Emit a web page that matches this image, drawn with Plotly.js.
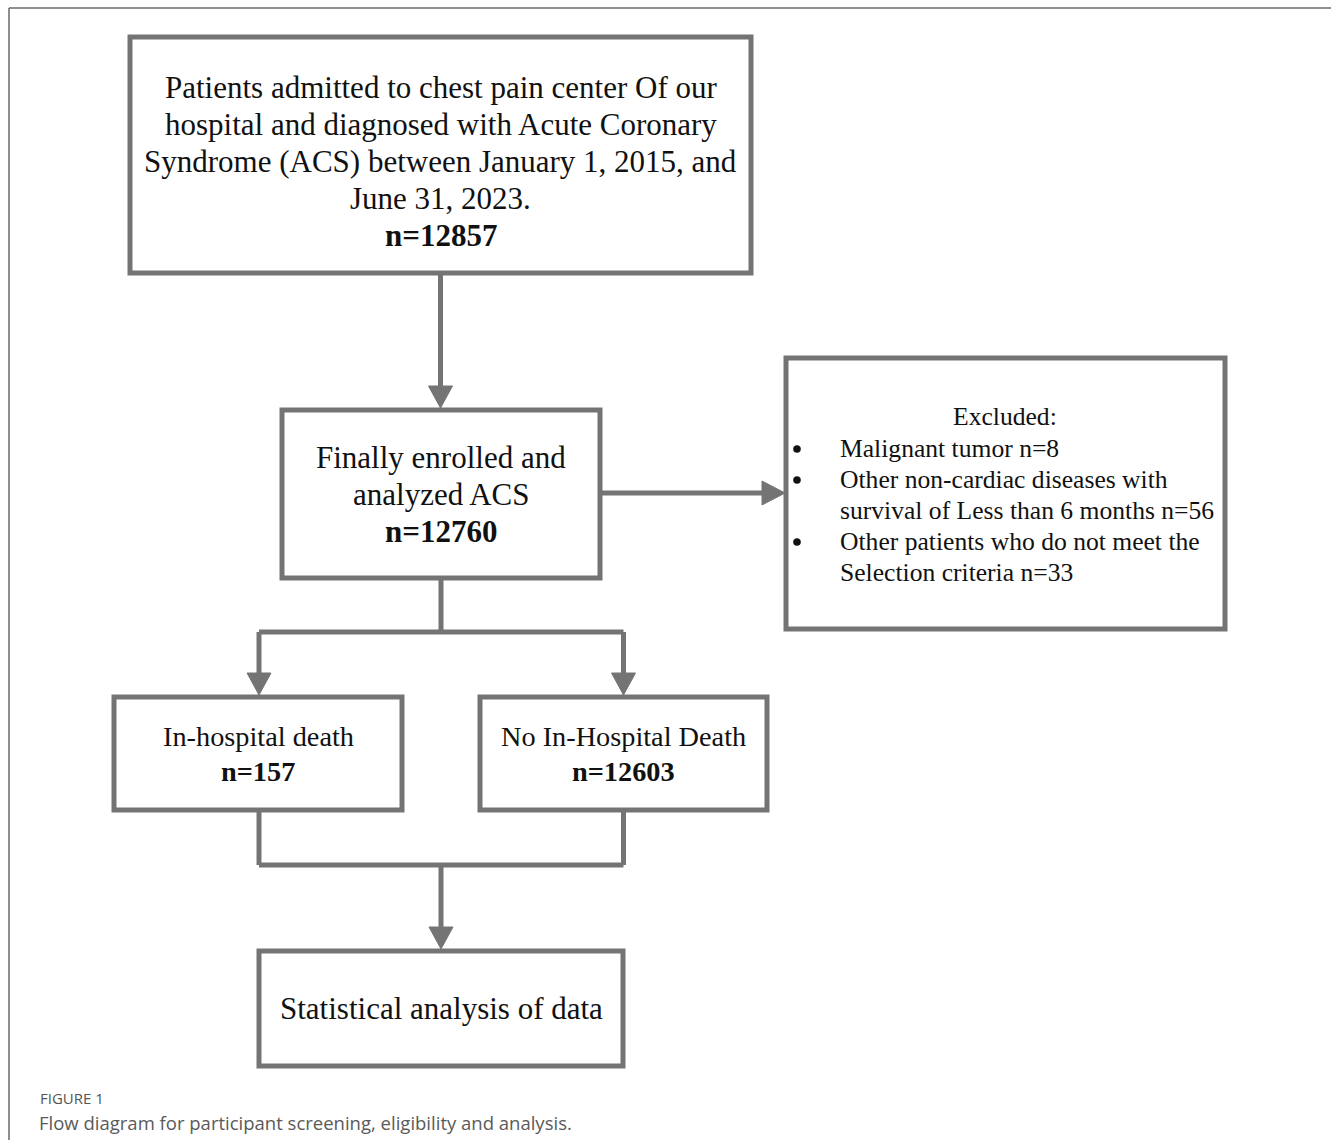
<!DOCTYPE html>
<html>
<head>
<meta charset="utf-8">
<script src="https://cdn.plot.ly/plotly-3.0.1.min.js"></script>
<style>html,body{margin:0;padding:0;background:#fff;}#chart{width:1331px;height:1140px;}</style>
</head>
<body>
<div id="chart"></div>
<script>
// ---- content (data) ----
const nTotal = 12857;
const nEnrolled = 12760;
const nDeath = 157;
const nNoDeath = 12603;
const excludedHeader = "Excluded:";
const excludedLabels = [["Malignant tumor"], ["Other non-cardiac diseases with", "survival of Less than 6 months"], ["Other patients who do not meet the", "Selection criteria"]];
const excludedCounts = [8, 56, 33];
const boxTitles = [
  ["Patients admitted to chest pain center Of our", "hospital and diagnosed with Acute Coronary", "Syndrome (ACS) between January 1, 2015, and", "June 31, 2023."],
  ["Finally enrolled and", "analyzed ACS"],
  ["In-hospital death"],
  ["No In-Hospital Death"],
  ["Statistical analysis of data"]
];
const boxCounts = [nTotal, nEnrolled, nDeath, nNoDeath, null];
const captionLabel = "FIGURE 1";
const captionText = "Flow diagram for participant screening, eligibility and analysis.";

// ---- layout geometry (pixel space) ----
const W = 1331, H = 1140;
const boxes = [
  {x0:130, x1:751, y0:37,  y1:273, ty:161.5, sp:37, fs:31},
  {x0:282, x1:600, y0:410, y1:578, ty:494, sp:37, fs:31},
  {x0:114, x1:402, y0:697, y1:810, ty:753.5, sp:35, fs:28.3},
  {x0:480, x1:767, y0:697, y1:810, ty:753.5, sp:35, fs:28.3},
  {x0:259, x1:623, y0:951, y1:1066, ty:1008, sp:37, fs:31}
];
const exBox = {x0:786, x1:1225, y0:358, y1:629};
const gray = "#747474";
const lw = 5;
const serif = "Liberation Serif, Times New Roman, serif";
const exSize = 25.6;

const shapes = [];
const annotations = [];

// outer frame
shapes.push({type:"line", xref:"x", yref:"y", x0:9, y0:8, x1:W, y1:8, line:{color:"#6a6a6a", width:1.5}});
shapes.push({type:"line", xref:"x", yref:"y", x0:9, y0:8, x1:9, y1:H, line:{color:"#6a6a6a", width:1.5}});

function rect(b){
  shapes.push({type:"rect", xref:"x", yref:"y", x0:b.x0, x1:b.x1, y0:b.y0, y1:b.y1, line:{color:gray, width:lw}, fillcolor:"rgba(0,0,0,0)"});
}
function seg(x0,y0,x1,y1){
  shapes.push({type:"line", xref:"x", yref:"y", x0:x0, y0:y0, x1:x1, y1:y1, line:{color:gray, width:lw}});
}
function headDown(x, yTip){
  shapes.push({type:"path", xref:"x", yref:"y", path:`M ${x-12} ${yTip-22} L ${x+12} ${yTip-22} L ${x} ${yTip} Z`, fillcolor:gray, line:{color:gray, width:1}});
}
function headRight(xTip, y){
  shapes.push({type:"path", xref:"x", yref:"y", path:`M ${xTip-23} ${y-12} L ${xTip-23} ${y+12} L ${xTip} ${y} Z`, fillcolor:gray, line:{color:gray, width:1}});
}
function bullet(x, y){
  shapes.push({type:"circle", xref:"x", yref:"y", x0:x-3.6, x1:x+3.6, y0:y-3.6, y1:y+3.6, fillcolor:"#111", line:{color:"#111", width:0.5}});
}
function textLine(x, y, txt, size, anchor){
  annotations.push({xref:"x", yref:"y", x:x, y:y, text:txt, showarrow:false, xanchor:anchor, yanchor:"middle", align:anchor==="left"?"left":"center",
    font:{family:serif, size:size, color:"#111"}});
}

boxes.forEach((b,i)=>{
  rect(b);
  const cx = (b.x0+b.x1)/2;
  const lines = boxTitles[i].slice();
  if (boxCounts[i] !== null) lines.push("<b>n=" + boxCounts[i] + "</b>");
  const y0 = b.ty - (lines.length-1)*b.sp/2;
  lines.forEach((l,k)=> textLine(cx, y0 + k*b.sp, l, b.fs, "center"));
});
rect(exBox);

// connectors
const cx0 = (boxes[0].x0+boxes[0].x1)/2;
seg(cx0, boxes[0].y1, cx0, boxes[1].y0-20); headDown(cx0, boxes[1].y0-2);
const yMid1 = 493;
seg(boxes[1].x1, yMid1, exBox.x0-20, yMid1); headRight(exBox.x0-1, yMid1);
const cx1 = (boxes[1].x0+boxes[1].x1)/2;
const cL = (boxes[2].x0+boxes[2].x1)/2 + 1, cR = (boxes[3].x0+boxes[3].x1)/2;
const ySplit = 632;
seg(cx1, boxes[1].y1, cx1, ySplit);
seg(cL, ySplit, cR, ySplit);
seg(cL, ySplit, cL, boxes[2].y0-20); headDown(cL, boxes[2].y0-2);
seg(cR, ySplit, cR, boxes[3].y0-20); headDown(cR, boxes[3].y0-2);
const yJoin = 865;
seg(cL, boxes[2].y1, cL, yJoin);
seg(cR, boxes[3].y1, cR, yJoin);
seg(cL, yJoin, cR, yJoin);
const cx4 = (boxes[4].x0+boxes[4].x1)/2;
seg(cx4, yJoin, cx4, boxes[4].y0-20); headDown(cx4, boxes[4].y0-2);

// excluded text
textLine(1005, 416, excludedHeader, exSize, "center");
let ey = 448;
const exSp = 31;
excludedLabels.forEach((lines,i)=>{
  bullet(797, ey + 1);
  lines.forEach((l,k)=>{
    const t = (k === lines.length-1) ? l + " n=" + excludedCounts[i] : l;
    textLine(838, ey, t, exSize, "left");
    ey += exSp;
  });
});

// caption
annotations.push({xref:"x", yref:"y", x:38, y:1098, text:captionLabel, showarrow:false, xanchor:"left", yanchor:"middle", font:{family:"Open Sans, sans-serif", size:15, color:"#555"}});
annotations.push({xref:"x", yref:"y", x:37, y:1122, text:captionText, showarrow:false, xanchor:"left", yanchor:"middle", font:{family:"Open Sans, sans-serif", size:18.5, color:"#5a5a5a"}});

const layout = {
  width: W, height: H,
  margin:{l:0, r:0, t:0, b:0, pad:0},
  paper_bgcolor:"#fff", plot_bgcolor:"#fff",
  xaxis:{range:[0,W], visible:false, fixedrange:true},
  yaxis:{range:[H,0], visible:false, fixedrange:true},
  showlegend:false,
  shapes: shapes,
  annotations: annotations
};
Plotly.newPlot("chart", [{type:"scatter", x:[], y:[], mode:"markers", hoverinfo:"skip"}], layout, {staticPlot:true, displayModeBar:false});
</script>
</body>
</html>
